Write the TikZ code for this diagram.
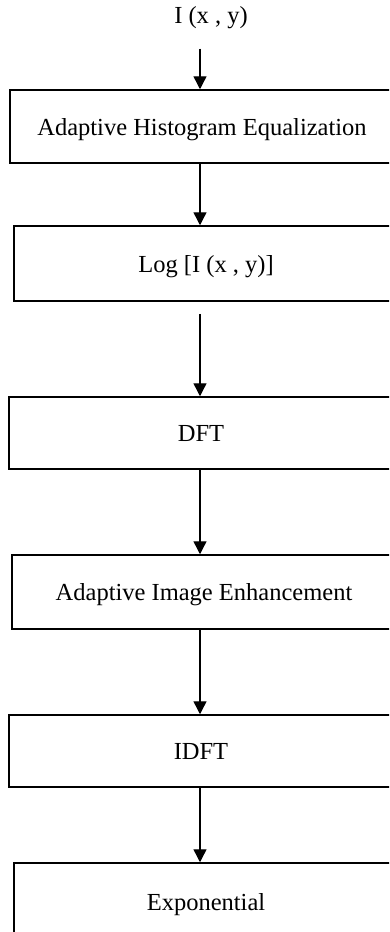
\documentclass[tikz,border=0pt]{standalone}
\usepackage{fontspec}
\setmainfont{Liberation Serif}
\usetikzlibrary{arrows.meta}

\begin{document}
\begin{tikzpicture}[x=1pt, y=-1pt,
  lbl/.style={font=\fontsize{24.5}{28}\selectfont},
  box/.style={lbl, draw, line width=1.5pt, minimum width=384pt, inner sep=0pt, text depth=0pt},
  flow/.style={line width=1.4pt, -{Triangle[length=13pt, width=13pt]}}]
\clip (0,0) rectangle (389,932);
\coordinate (col) at (200,0);
\node[lbl] (in) at (211,18) {I (x , y)};
\node[box, minimum height=73pt] (ahe) at (202,126.5) {Adaptive Histogram Equalization};
\node[box, minimum height=75pt] (log) at (206,263.5) {Log [I (x , y)]};
\node[box, minimum height=72pt] (dft) at (201,433) {DFT};
\node[box, minimum height=74pt] (aie) at (204,592) {Adaptive Image Enhancement};
\node[box, minimum height=72pt] (idft) at (201,751) {IDFT};
\node[box, minimum height=78pt] (exp) at (206,902) {Exponential};
\draw[flow, shorten <=16pt] (in.south -| col) -- (ahe.north -| col);
\draw[flow] (ahe.south -| col) -- (log.north -| col);
\draw[flow, shorten <=12pt] (log.south -| col) -- (dft.north -| col);
\draw[flow] (dft.south -| col) -- (aie.north -| col);
\draw[flow] (aie.south -| col) -- (idft.north -| col);
\draw[flow] (idft.south -| col) -- (exp.north -| col);
\end{tikzpicture}
\end{document}
